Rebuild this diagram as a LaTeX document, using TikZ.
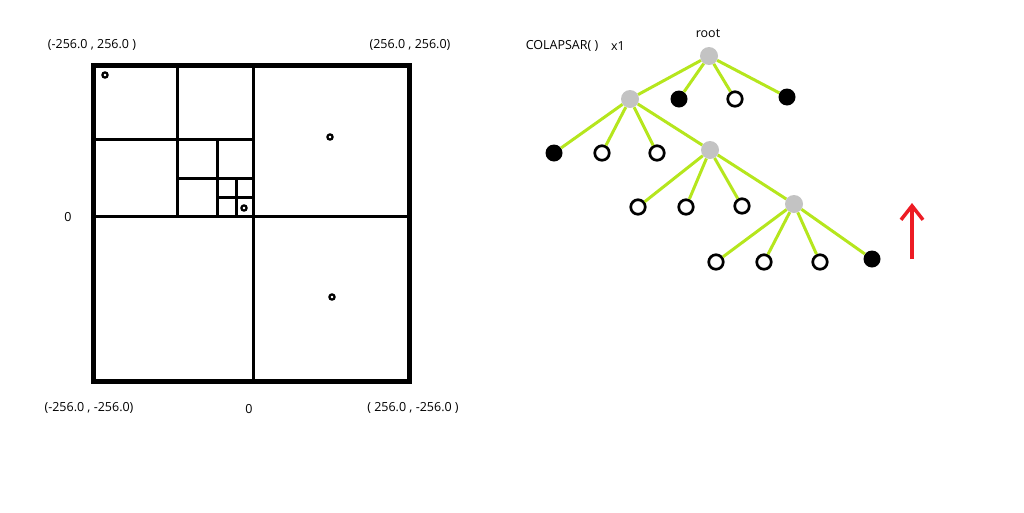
\documentclass[tikz,border=0pt]{standalone}
\usepackage{fontspec}
\setmainfont{Open Sans}
\usetikzlibrary{arrows.meta}
\definecolor{nodegray}{RGB}{195,195,195}
\definecolor{branchgreen}{RGB}{181,230,29}
\definecolor{paintred}{RGB}{237,28,36}

\begin{document}
\begin{tikzpicture}[x=1pt, y=-1pt,
  label/.style={font=\fontsize{12.5}{14}\selectfont, inner sep=0pt},
  cell/.style={line width=3pt},
  point/.style={line width=2.2pt},
  innernode/.style={circle, fill=nodegray, minimum size=18pt, inner sep=0pt},
  fullnode/.style={circle, fill=black, minimum size=17pt, inner sep=0pt},
  emptynode/.style={circle, draw=black, line width=2.7pt, fill=white, minimum size=14.5pt, inner sep=0pt},
  branch/.style={draw=branchgreen, line width=3pt}]
\useasboundingbox (0,0) rectangle (1024,512);

% Quadtree
\draw[line width=5pt] (93,65) rectangle (409,381);
\draw[cell] (253,65) -- (253,381);
\draw[cell] (93,216) -- (409,216);
\draw[cell] (177,65) -- (177,216);
\draw[cell] (93,139) -- (253,139);
\draw[cell] (217,139) -- (217,216);
\draw[cell] (177,178) -- (253,178);
\draw[cell] (236,178) -- (236,216);
\draw[cell] (217,197) -- (253,197);

% Points
\draw[point] (105,75) circle (2.6);
\draw[point] (330,137) circle (2.6);
\draw[point] (244,208) circle (2.6);
\draw[point] (332,297) circle (2.6);

% Corner labels
\node[label] (nw) at (92,45) {(-256.0 , 256.0 )};
\node[label] (ne) at (410,45) {(256.0 , 256.0)};
\node[label] (mid left) at (68,217) {0};
\node[label] (sw) at (89,408) {(-256.0 , -256.0)};
\node[label] (mid bottom) at (249,409) {0};
\node[label] (se) at (413,408) {( 256.0 , -256.0 )};

% Tree
\node[label] (collapse) at (562,46) {COLAPSAR( )};
\node[label] (times) at (618,46) {x1};
\node[label] (root label) at (708,33) {root};

\node[innernode] (root) at (709,56) {};
\node[innernode] (a) at (630,99) {};
\node[fullnode] (b) at (679,99) {};
\node[emptynode] (c) at (735,99) {};
\node[fullnode] (d) at (787,97) {};

\node[fullnode] (aa) at (554,153) {};
\node[emptynode] (ab) at (602,153) {};
\node[emptynode] (ac) at (657,153) {};
\node[innernode] (ad) at (710,150) {};

\node[emptynode] (ada) at (638,207) {};
\node[emptynode] (adb) at (686,207) {};
\node[emptynode] (adc) at (742,206) {};
\node[innernode] (add) at (794,204) {};

\node[emptynode] (adda) at (716,262) {};
\node[emptynode] (addb) at (764,262) {};
\node[emptynode] (addc) at (820,262) {};
\node[fullnode] (addd) at (872,259) {};

\draw[branch] (root) -- (a);
\draw[branch] (root) -- (b);
\draw[branch] (root) -- (c);
\draw[branch] (root) -- (d);
\draw[branch] (a) -- (aa);
\draw[branch] (a) -- (ab);
\draw[branch] (a) -- (ac);
\draw[branch] (a) -- (ad);
\draw[branch] (ad) -- (ada);
\draw[branch] (ad) -- (adb);
\draw[branch] (ad) -- (adc);
\draw[branch] (ad) -- (add);
\draw[branch] (add) -- (adda);
\draw[branch] (add) -- (addb);
\draw[branch] (add) -- (addc);
\draw[branch] (add) -- (addd);

% Arrow
\coordinate (arrow start) at (912,259);
\coordinate (arrow end) at (912,203);
\draw[paintred, line width=4pt, -{Straight Barb[length=14pt, width=22pt, line width=3.5pt]}] (arrow start) -- (arrow end);
\end{tikzpicture}
\end{document}
